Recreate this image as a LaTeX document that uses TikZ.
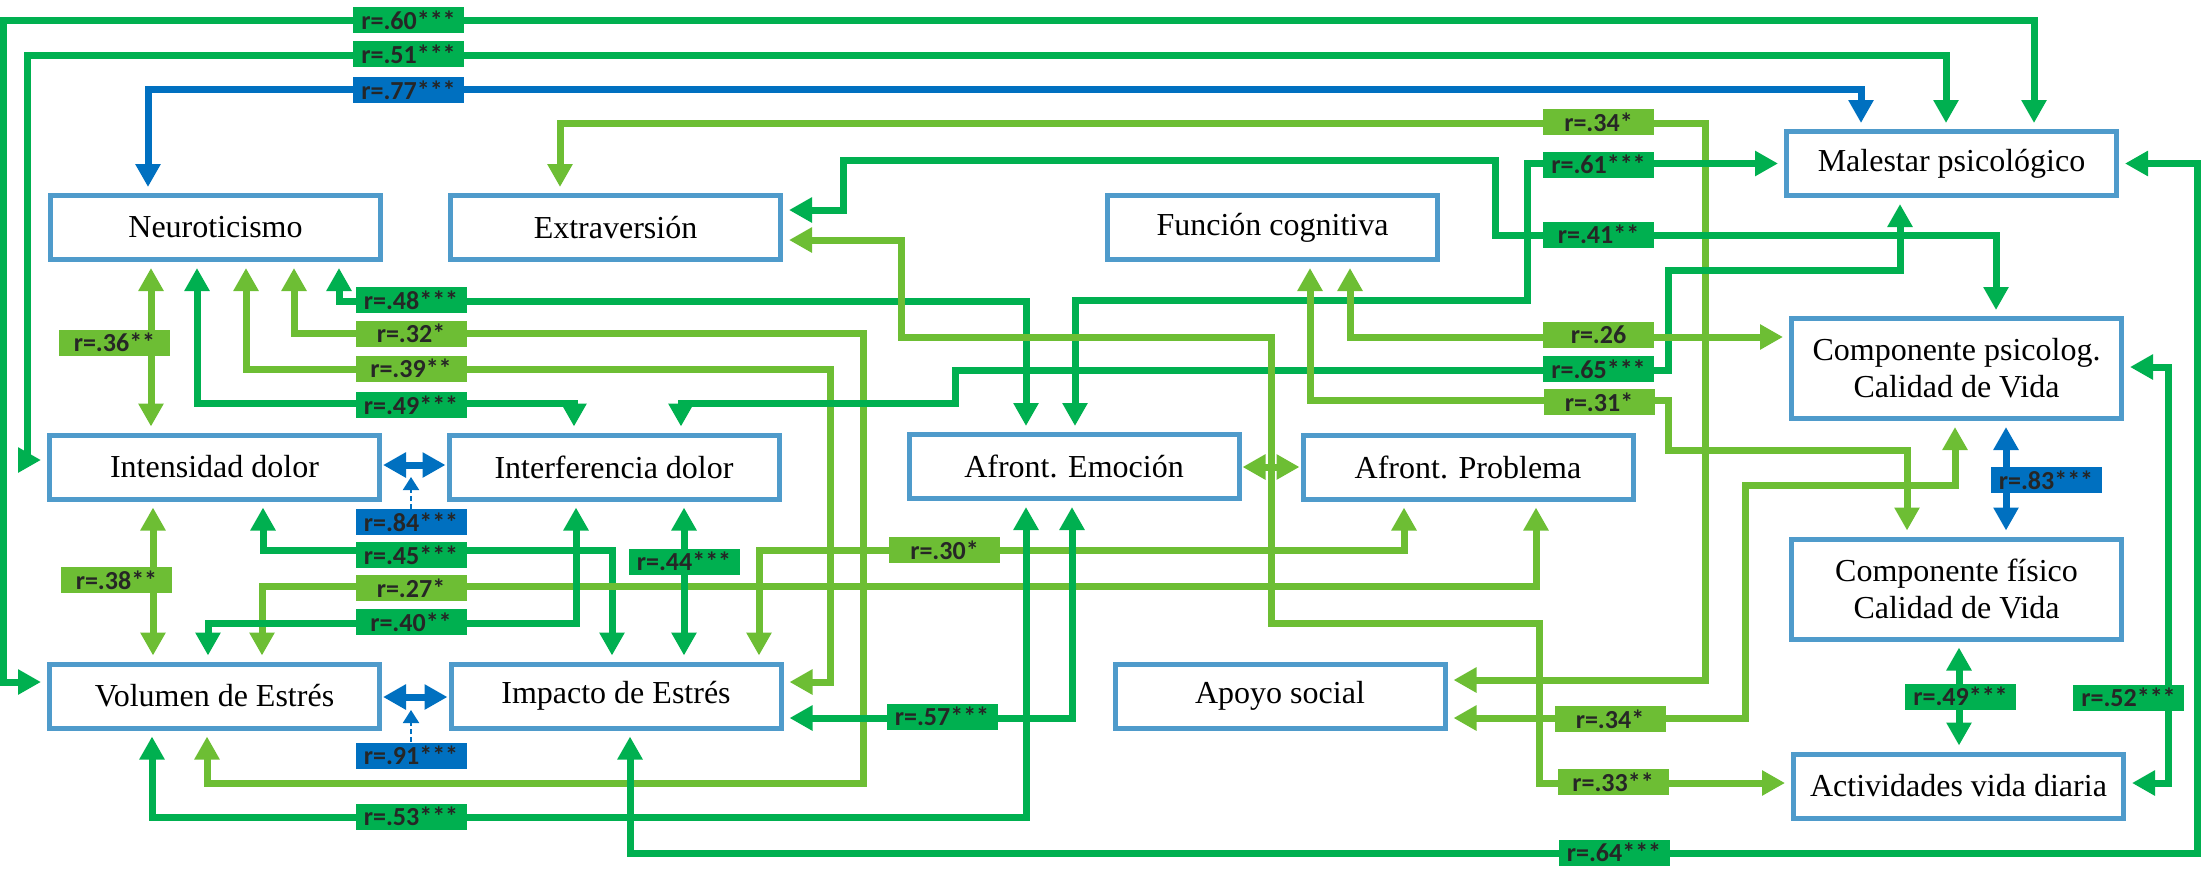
\documentclass[tikz,border=0pt]{standalone}
\usepackage{fontspec}
\setmainfont{Liberation Serif}
\newfontfamily\labfont{Carlito}
\usetikzlibrary{arrows.meta}
\definecolor{dgreen}{HTML}{00B050}
\definecolor{lgreen}{HTML}{6DBE34}
\definecolor{cblue}{HTML}{0070C0}
\definecolor{boxblue}{HTML}{4F9BCB}
\definecolor{labtext}{HTML}{262626}
\begin{document}
\begin{tikzpicture}[x=0.5pt,y=-0.5pt,
  box/.style={draw=boxblue,line width=2.5pt,fill=white,minimum width=165pt,minimum height=32pt,inner sep=0pt,align=center,font=\fontsize{16}{18.4}\selectfont},
  boxtwo/.style={box,minimum height=50pt},
  conn/.style={line width=3.5pt,arrows={Triangle[width=12pt,length=11.5pt]-Triangle[width=12pt,length=11.5pt]},shorten <=3pt,shorten >=3pt},
  cdg/.style={conn,dgreen},
  clg/.style={conn,lgreen},
  cbl/.style={conn,cblue},
  tight/.style={shorten <=0.5pt,shorten >=0.5pt},
  lab/.style={minimum width=55.5pt,minimum height=13pt,inner sep=0pt,text=labtext,font=\labfont\bfseries\fontsize{13}{13}\selectfont},
  ldg/.style={lab,fill=dgreen},
  llg/.style={lab,fill=lgreen},
  lbl/.style={lab,fill=cblue},
  dashc/.style={cblue,line width=1pt,dash pattern=on 2.5pt off 1.5pt,-{Triangle[width=8pt,length=6.5pt]}}
]
\useasboundingbox (0,0) rectangle (2201,874);

% boxes
\node[box] (neu) at (215.5,227.5) {Neuroticismo};
\node[box] (ext) at (615.5,227.5) {Extraversión};
\node[box] (fun) at (1272.5,227.5) {Función cognitiva};
\node[box] (mal) at (1951.5,163.5) {Malestar psicológico};
\node[box] (int) at (214.5,467) {Intensidad dolor};
\node[box] (inf) at (614,467) {Interferencia dolor};
\node[box] (afe) at (1074,466.5) {Afront. Emoción};
\node[box] (afp) at (1468,467) {Afront. Problema};
\node[boxtwo] (cps) at (1956.5,368.5) {Componente psicolog.\\Calidad de Vida};
\node[boxtwo] (cfi) at (1956.5,589) {Componente físico\\Calidad de Vida};
\node[box] (act) at (1958.5,786) {Actividades vida diaria};
\node[box] (vol) at (214.5,696) {Volumen de Estrés};
\node[box] (imp) at (616,696) {Impacto de Estrés};
\node[box] (apo) at (1280,696) {Apoyo social};

% connectors
\draw[cdg] (vol.west |- 0,682) -| (3.5,20.5) -| (2034,0 |- mal.north);
\draw[cdg] (int.west |- 0,460) -| (27.5,55.5) -| (1946,0 |- mal.north);
\draw[cbl] (148,0 |- neu.north) |- (1861,89.5) -- (1861,0 |- mal.north);
\draw[clg] (560,0 |- ext.north) |- (1705,123) |- (apo.east |- 0,680);
\draw[cdg] (ext.east |- 0,210) -| (843,160) -| (1495,235) -| (1996,0 |- cps.north);
\draw[cdg] (1075,0 |- afe.north) |- (1527,300) |- (mal.west |- 0,163.5);
\draw[cdg] (339,0 |- neu.south) |- (1026,301.5) -- (1026,0 |- afe.north);
\draw[clg] (294,0 |- neu.south) |- (863,333) |- (207,783.5) -- (207,0 |- vol.south);
\draw[clg] (246,0 |- neu.south) |- (830,369.5) |- (imp.east |- 0,682);
\draw[cdg] (197,0 |- neu.south) |- (574,403.5) -- (574,0 |- inf.north);
\draw[clg] (151,0 |- neu.south) -- (151,0 |- int.north);
\draw[cdg] (681,0 |- inf.north) |- (955,403.5) |- (1668,370) |- (1900,270) -- (1900,0 |- mal.south);
\draw[clg] (1350,0 |- fun.south) |- (cps.west |- 0,337);
\draw[clg] (1310,0 |- fun.south) |- (1668,400.5) |- (1907,450) -- (1907,0 |- cfi.north);
\draw[cbl,tight] (int.east |- 0,465) -- (inf.west |- 0,465);
\draw[cdg] (263,0 |- int.south) |- (612,550.5) -- (612,0 |- imp.north);
\draw[clg] (262,0 |- vol.north) |- (1536,586.5) -- (1536,0 |- afp.south);
\draw[cdg] (576,0 |- inf.south) |- (208,623) -- (208,0 |- vol.north);
\draw[cdg] (684,0 |- inf.south) -- (684,0 |- imp.north);
\draw[clg] (759,0 |- imp.north) |- (1404,550.5) -- (1404,0 |- afp.south);
\draw[clg] (153,0 |- int.south) -- (153,0 |- vol.north);
\draw[clg,tight] (afe.east |- 0,467) -- (afp.west |- 0,467);
\draw[cbl,tight] (vol.east |- 0,697) -- (imp.west |- 0,697);
\draw[cdg] (imp.east |- 0,718) -| (1072,0 |- afe.south);
\draw[cdg] (152,0 |- vol.south) |- (1026,817.5) -- (1026,0 |- afe.south);
\draw[cdg] (630,0 |- imp.south) |- (2197,853) |- (mal.east |- 0,163.5);
\draw[clg] (ext.east |- 0,240) -| (901,337) -| (1271,623) -| (1539,783) -- (act.west |- 0,783);
\draw[clg] (apo.east |- 0,718) -| (1745,485) -| (1955,0 |- cps.south);
\draw[cbl] (2006,0 |- cps.south) -- (2006,0 |- cfi.north);
\draw[cdg] (1959,0 |- cfi.south) -- (1959,0 |- act.north);
\draw[cdg] (cps.east |- 0,367) -| (2168,783) -- (act.east |- 0,783);

% labels
\node[ldg] (l60) at (408.5,20) {r=.60***};
\node[ldg] (l51) at (408.5,54) {r=.51***};
\node[lbl] (l77) at (408.5,90) {r=.77***};
\node[llg] (l34a) at (1598.5,122) {r=.34*};
\node[ldg] (l61) at (1598.5,164.5) {r=.61***};
\node[ldg] (l41) at (1598.5,234.5) {r=.41**};
\node[ldg] (l48) at (411,300) {r=.48***};
\node[llg] (l32) at (411,333.5) {r=.32*};
\node[llg] (l39) at (411,368.5) {r=.39**};
\node[ldg] (l49) at (411,405) {r=.49***};
\node[llg] (l36) at (114.5,342.5) {r=.36**};
\node[llg] (l26) at (1598.5,334.5) {r=.26};
\node[ldg] (l65) at (1598.5,369) {r=.65***};
\node[llg] (l31) at (1599,402) {r=.31*};
\node[lbl] (l84) at (411,522) {r=.84***};
\node[ldg] (l45) at (411,555) {r=.45***};
\node[llg] (l27) at (411,588) {r=.27*};
\node[ldg] (l40) at (411,622) {r=.40**};
\node[ldg] (l44) at (684,561.5) {r=.44***};
\node[llg] (l30) at (944.5,550) {r=.30*};
\node[llg] (l38) at (116.5,580) {r=.38**};
\node[lbl] (l91) at (411,755.5) {r=.91***};
\node[ldg] (l57) at (942,716.5) {r=.57***};
\node[ldg] (l53) at (411,816.5) {r=.53***};
\node[ldg] (l64) at (1614,852.5) {r=.64***};
\node[llg] (l33) at (1613,782) {r=.33**};
\node[llg] (l34b) at (1610,719) {r=.34*};
\node[lbl] (l83) at (2046,480) {r=.83***};
\node[ldg] (l49b) at (1960.5,696.5) {r=.49***};
\node[ldg] (l52) at (2128.5,697.5) {r=.52***};

% dashed pointers
\draw[dashc] (l84.north) -- (l84.north |- 0,477);
\draw[dashc] (l91.north) -- (l91.north |- 0,710);
\end{tikzpicture}
\end{document}
